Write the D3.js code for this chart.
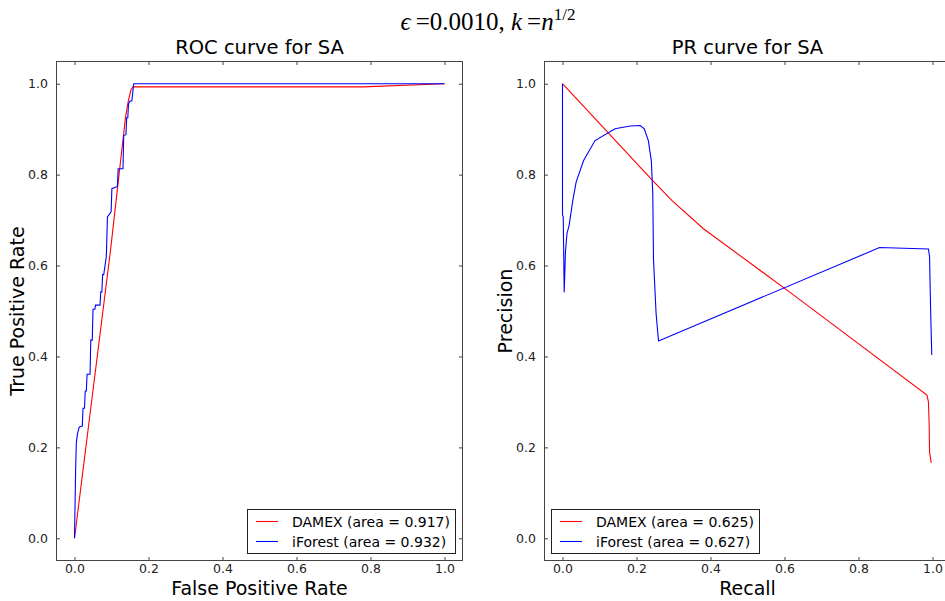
<!DOCTYPE html>
<html>
<head>
<meta charset="utf-8">
<title>ROC / PR curves for SA</title>
<script src="https://cdn.jsdelivr.net/npm/d3@7"></script>
<style>
  body { margin: 0; background: #fff; }
  svg { display: block; }
  .tick text { font-family: "DejaVu Sans", sans-serif; font-size: 12.5px; fill: #222; }
  .axtitle { font-family: "DejaVu Sans", sans-serif; font-size: 19.5px; text-anchor: middle; fill: #000; }
  .axlabel { font-family: "DejaVu Sans", sans-serif; font-size: 19px; text-anchor: middle; fill: #000; }
  .legtext { font-family: "DejaVu Sans", sans-serif; font-size: 14px; fill: #000; }
</style>
</head>
<body>
<script>
// ---- data ----
var ticks = [0.0, 0.2, 0.4, 0.6, 0.8, 1.0];

// ROC, DAMEX
var rocDamexFpr = [0, 0.0974, 0.138, 0.145, 0.152, 0.158, 0.78, 1.0];
var rocDamexTpr = [0, 0.634, 0.927, 0.960, 0.985, 0.993, 0.993, 1.0];

// ROC, iForest (step curve)
var rocIforFpr = [0, 0.003, 0.005, 0.008, 0.013, 0.021, 0.023, 0.027, 0.029, 0.032, 0.034, 0.042, 0.044, 0.048, 0.050, 0.055, 0.057, 0.069, 0.071, 0.074, 0.076, 0.079, 0.086, 0.089, 0.099, 0.101, 0.116, 0.118, 0.131, 0.133, 0.139, 0.141, 0.144, 0.146, 0.150, 0.155, 0.160, 1.0];
var rocIforTpr = [0, 0.15, 0.21, 0.23, 0.245, 0.247, 0.286, 0.286, 0.324, 0.324, 0.361, 0.361, 0.436, 0.436, 0.504, 0.504, 0.513, 0.513, 0.542, 0.542, 0.580, 0.580, 0.620, 0.707, 0.718, 0.769, 0.774, 0.813, 0.813, 0.886, 0.888, 0.925, 0.925, 0.956, 0.962, 0.962, 1.0, 1.0];

// PR, DAMEX
var prDamexRec = [0, 0.24, 0.296, 0.381, 0.615, 0.985, 0.989, 0.991, 0.992, 0.9965];
var prDamexPre = [1.0, 0.79, 0.743, 0.681, 0.541, 0.315, 0.30, 0.25, 0.19, 0.166];

// PR, iForest
var prIforRec = [0, 0.0, 0.002, 0.0046, 0.008, 0.012, 0.018, 0.028, 0.037, 0.057, 0.088, 0.142, 0.183, 0.210, 0.221, 0.232, 0.240, 0.244, 0.246, 0.253, 0.2595, 0.857, 0.989, 0.992, 0.995, 0.998];
var prIforPre = [1.0, 0.711, 0.707, 0.541, 0.63, 0.670, 0.689, 0.744, 0.784, 0.831, 0.875, 0.901, 0.907, 0.908, 0.901, 0.875, 0.831, 0.758, 0.612, 0.494, 0.434, 0.6396, 0.6365, 0.62, 0.50, 0.403];

var rocLegend = ["DAMEX (area = 0.917)", "iForest (area = 0.932)"];
var prLegend = ["DAMEX (area = 0.625)", "iForest (area = 0.627)"];
var seriesColors = ["#ff0000", "#0000ff"];

// ---- layout ----
var W = 945, H = 601;
var svg = d3.select("body").append("svg").attr("width", W).attr("height", H);

// suptitle (math style)
var sup = svg.append("text")
  .attr("x", 488).attr("y", 30)
  .attr("text-anchor", "middle")
  .style("font-family", "'Liberation Serif', 'DejaVu Serif', serif")
  .style("font-size", "25px");
sup.append("tspan").style("font-style", "italic").text("\u03F5");
sup.append("tspan").text("\u2009=0.0010, ");
sup.append("tspan").style("font-style", "italic").text("k");
sup.append("tspan").text("\u2009=");
sup.append("tspan").style("font-style", "italic").text("n");
sup.append("tspan").attr("dy", -10).style("font-size", "17px").text("1/2");

function zip(xs, ys) { return xs.map(function(x, i) { return [x, ys[i]]; }); }

function panel(left, title, xlab, ylab, series, legend, legX) {
  var top = 61, w = 407, h = 500;
  var x = d3.scaleLinear().domain([-0.05, 1.05]).range([left, left + w]);
  var y = d3.scaleLinear().domain([-0.05, 1.05]).range([top + h, top]);
  var g = svg.append("g");

  var clipId = "clip" + Math.round(left);
  svg.append("clipPath").attr("id", clipId)
    .append("rect").attr("x", left).attr("y", top).attr("width", w).attr("height", h);

  var line = d3.line().x(function(d) { return x(d[0]); }).y(function(d) { return y(d[1]); });
  series.forEach(function(s, i) {
    g.append("path").attr("d", line(s))
      .attr("fill", "none").attr("stroke", seriesColors[i]).attr("stroke-width", 1.1)
      .attr("clip-path", "url(#" + clipId + ")");
  });

  // axes with inward ticks on all four sides
  var fmt = d3.format(".1f");
  var ax = [
    [d3.axisBottom(x).tickValues(ticks).tickFormat(fmt).tickSizeInner(-4).tickSizeOuter(0).tickPadding(3), top + h],
    [d3.axisTop(x).tickValues(ticks).tickFormat("").tickSizeInner(-4).tickSizeOuter(0), top]
  ];
  ax.forEach(function(a) {
    var ga = g.append("g").attr("transform", "translate(0," + a[1] + ")").call(a[0]);
    ga.select(".domain").remove();
    ga.selectAll("line").attr("stroke", "#444");
  });
  var ay = [
    [d3.axisLeft(y).tickValues(ticks).tickFormat(fmt).tickSizeInner(-4).tickSizeOuter(0).tickPadding(8), left],
    [d3.axisRight(y).tickValues(ticks).tickFormat("").tickSizeInner(-4).tickSizeOuter(0), left + w]
  ];
  ay.forEach(function(a) {
    var ga = g.append("g").attr("transform", "translate(" + a[1] + ",0)").call(a[0]);
    ga.select(".domain").remove();
    ga.selectAll("line").attr("stroke", "#444");
  });

  g.append("rect").attr("x", left + 0.5).attr("y", top + 0.5)
    .attr("width", w - 1).attr("height", h - 1)
    .attr("fill", "none").attr("stroke", "#444").attr("stroke-width", 1);

  g.append("text").attr("class", "axtitle").attr("x", left + w / 2).attr("y", top - 7).text(title);
  g.append("text").attr("class", "axlabel").attr("x", left + w / 2).attr("y", 595).text(xlab);
  g.append("text").attr("class", "axlabel")
    .attr("transform", "translate(" + (left - 32) + "," + (top + h / 2) + ") rotate(-90)")
    .text(ylab);

  // legend
  var lg = g.append("g");
  lg.append("rect").attr("x", legX + 0.5).attr("y", 509.5).attr("width", 208).attr("height", 44)
    .attr("fill", "#fff").attr("stroke", "#222").attr("stroke-width", 1);
  legend.forEach(function(t, i) {
    var yy = 521.5 + i * 20;
    lg.append("line").attr("x1", legX + 9).attr("x2", legX + 31).attr("y1", yy).attr("y2", yy)
      .attr("stroke", seriesColors[i]).attr("stroke-width", 1.1);
    lg.append("text").attr("class", "legtext").attr("x", legX + 45).attr("y", yy + 5).text(t);
  });
}

panel(56, "ROC curve for SA", "False Positive Rate", "True Positive Rate",
  [zip(rocDamexFpr, rocDamexTpr), zip(rocIforFpr, rocIforTpr)], rocLegend, 247);
panel(544, "PR curve for SA", "Recall", "Precision",
  [zip(prDamexRec, prDamexPre), zip(prIforRec, prIforPre)], prLegend, 551);
</script>
</body>
</html>
